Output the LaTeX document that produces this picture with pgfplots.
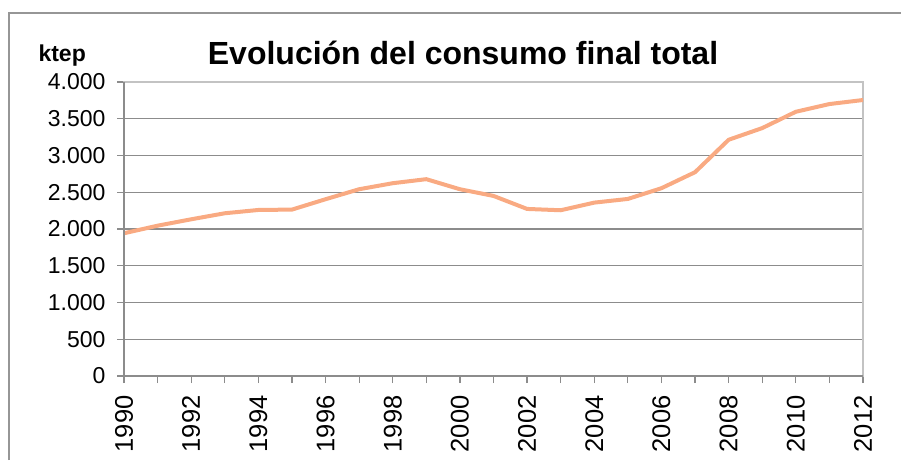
\documentclass[border=0pt]{standalone}
\usepackage{fontspec}
\setmainfont{Liberation Sans}
\usepackage{pgfplots}
\pgfplotsset{compat=1.18}
\definecolor{linec}{RGB}{249,170,130}
\definecolor{gridc}{RGB}{140,140,140}
\definecolor{framec}{RGB}{195,195,195}
\definecolor{outerc}{RGB}{150,150,150}
\begin{document}
\begin{tikzpicture}[x=1pt,y=1pt]
\useasboundingbox (0,0) rectangle (901,460);
\draw[outerc,line width=1.5pt] (9,0) -- (9,447) -- (901,447);
\node[anchor=base west,font=\fontsize{23}{26}\selectfont\bfseries] at (35,398) {ktep};
\node[anchor=base,font=\fontsize{32}{36}\selectfont\bfseries] at (463,395) {Evolución del consumo final total};
\begin{axis}[
  at={(124pt,84pt)}, anchor=south west,
  scale only axis, width=739pt, height=294pt,
  xmin=1990, xmax=2012, ymin=0, ymax=4000,
  xtick={1990,1991,...,2012},
  xticklabels={1990,,1992,,1994,,1996,,1998,,2000,,2002,,2004,,2006,,2008,,2010,,2012},
  ytick={0,500,...,4000},
  tick align=outside, tick pos=left,
  major tick length=7pt,
  every tick/.style={gridc,line width=1.2pt},
  ymajorgrids, grid style={gridc,line width=1.3pt},
  axis line style={framec,line width=1.5pt},
  /pgf/number format/assume math mode=true,
  /pgf/number format/1000 sep={.},
  yticklabel style={font=\fontsize{23}{26}\selectfont, xshift=-8pt},
  xticklabel style={font=\fontsize{25.5}{28}\selectfont, rotate=90, anchor=east, xshift=-9pt},
  after end axis/.code={
    \draw[gridc,line width=1.5pt] (rel axis cs:0,1) -- (rel axis cs:0,0) -- (rel axis cs:1,0);
  },
]
\addplot[linec, line width=4pt, line join=round, mark=none] coordinates {
(1990,1942) (1991,2045) (1992,2132) (1993,2214) (1994,2259) (1995,2264)
(1996,2405) (1997,2541) (1998,2623) (1999,2678) (2000,2541) (2001,2450)
(2002,2273) (2003,2255) (2004,2359) (2005,2409) (2006,2555) (2007,2773)
(2008,3214) (2009,3373) (2010,3595) (2011,3700) (2012,3755)
};
\end{axis}
\end{tikzpicture}
\end{document}
